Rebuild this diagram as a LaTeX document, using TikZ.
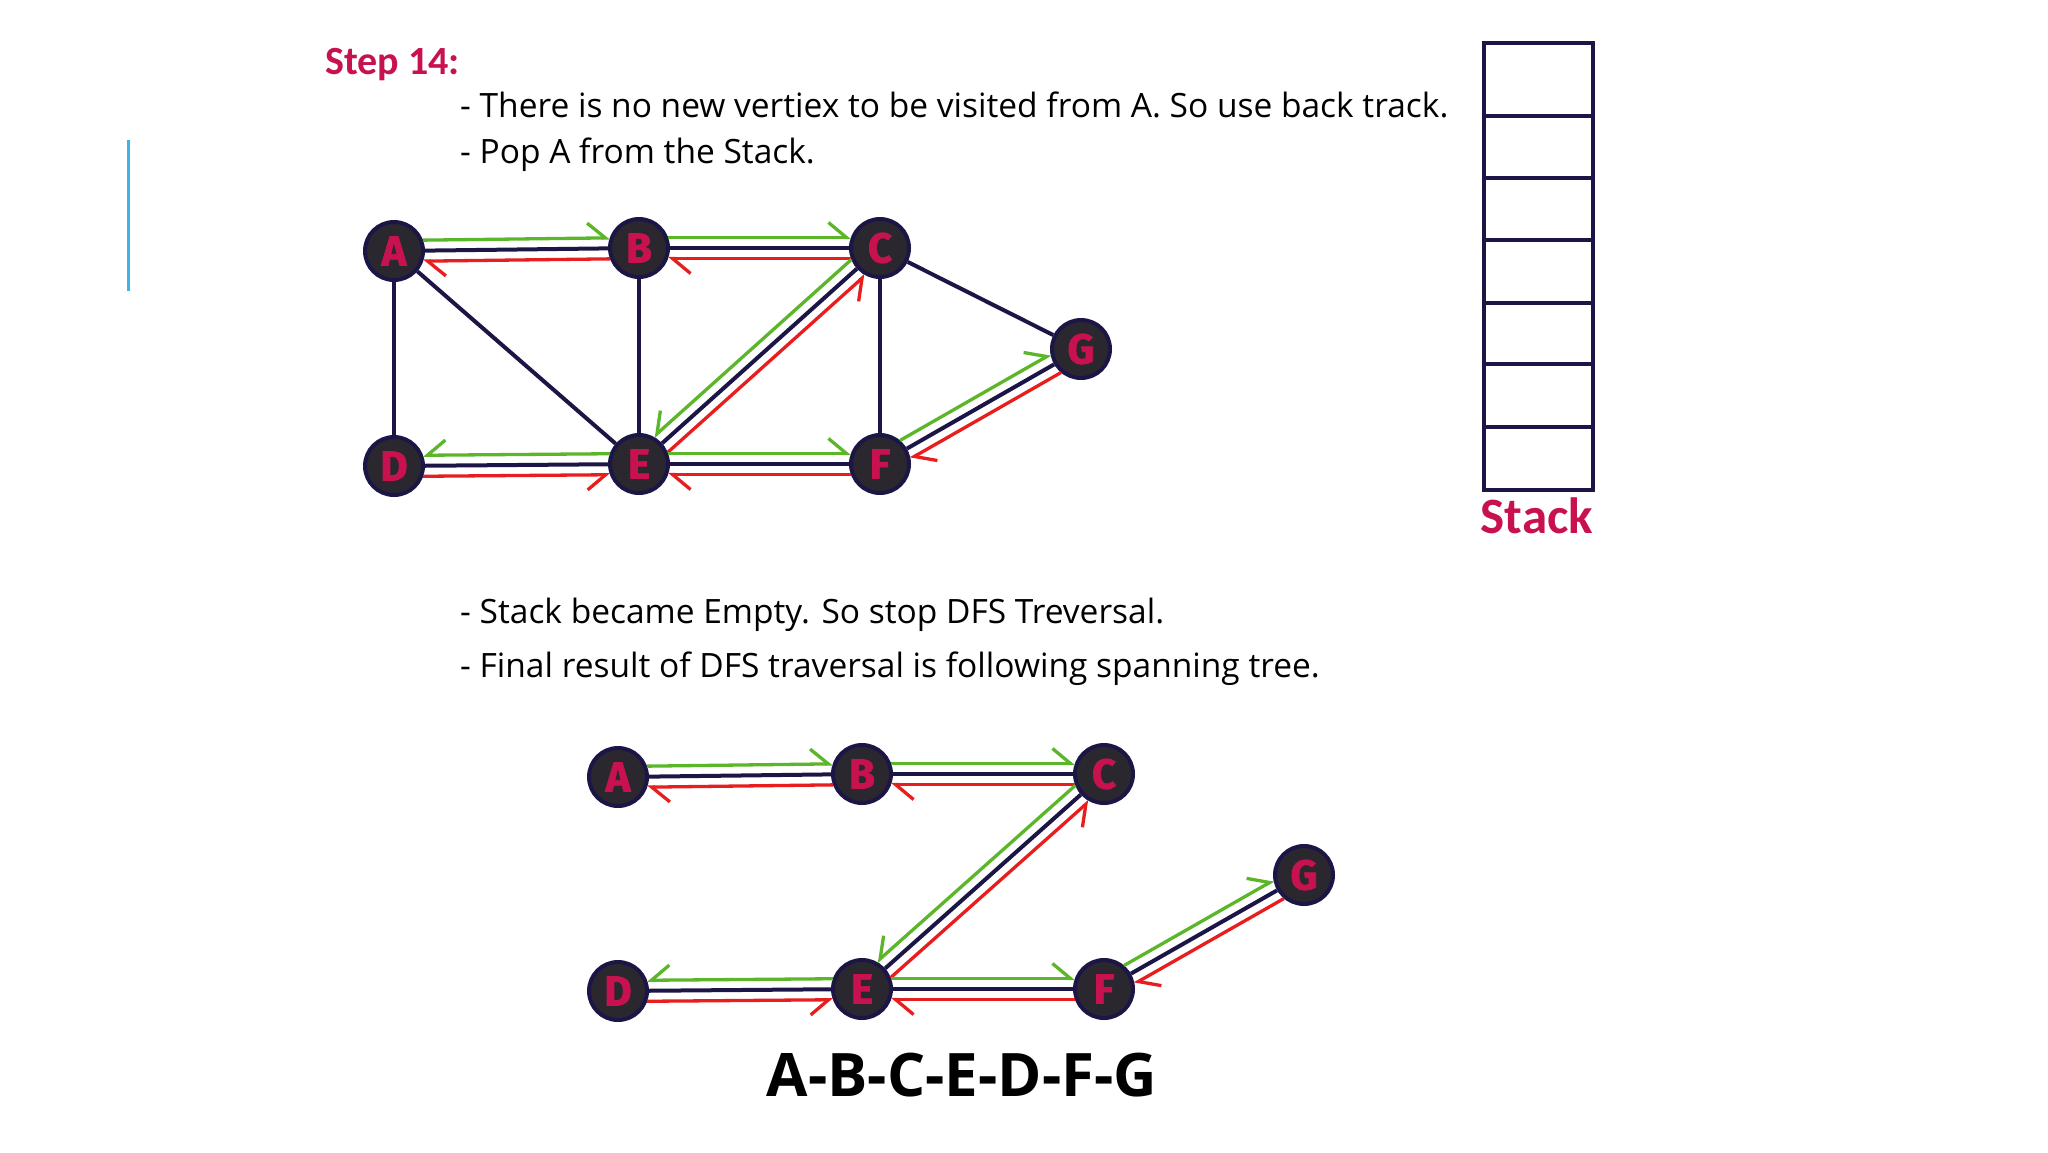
\documentclass[tikz,border=0pt]{standalone}
\usepackage{fontspec}
\setmainfont{Open Sans}
\newfontfamily\stepfont{Carlito}
\newfontfamily\letterfont{Fira Sans}[BoldFeatures={FakeBold=1.6}]
\usetikzlibrary{arrows.meta,calc}
\definecolor{navy}{RGB}{28,22,70}
\definecolor{crim}{RGB}{200,18,80}
\definecolor{grn}{RGB}{92,182,42}
\definecolor{rd}{RGB}{232,30,30}
\definecolor{vfill}{RGB}{42,40,46}
\definecolor{sky}{RGB}{59,180,232}
\newcommand\travL[3]{\draw[#3,barbL] ($(#1.center)!10.5pt!90:(#2.center)$) -- ($(#2.center)!10.5pt!-90:(#1.center)$);}
\newcommand\travR[3]{\draw[#3,barbR] ($(#1.center)!10.5pt!-90:(#2.center)$) -- ($(#2.center)!10.5pt!90:(#1.center)$);}
\begin{document}
\begin{tikzpicture}[x=1pt,y=-1pt,
  vert/.style={circle,draw=navy,line width=4pt,fill=vfill,minimum size=58pt,inner sep=0pt,text=crim,font=\letterfont\bfseries\fontsize{42}{42}\selectfont},
  edge/.style={draw=navy,line width=4pt},
  trav/.style={line width=3.3pt,shorten <=29pt,shorten >=29pt},
  barbL/.style={trav,-{Straight Barb[harpoon,length=18pt,width=30pt]}},
  barbR/.style={trav,-{Straight Barb[harpoon,swap,length=18pt,width=30pt]}},
  body/.style={anchor=base west,inner sep=0pt,font=\fontsize{33.5}{38}\selectfont},
  cell/.style={draw=navy,line width=4pt}
]
\fill[white] (0,0) rectangle (2048,1152);
\useasboundingbox (0,0) rectangle (2048,1152);

% blue bar
\draw[sky,line width=3pt] (128,140) -- (128,291);

% texts
\node[anchor=base west,inner sep=0pt,text=crim,font=\stepfont\bfseries\fontsize{40}{42}\selectfont] (step) at (325,74) {Step 14:};
\node[body] (t1) at (460,117) {- There is no new vertiex to be visited from A. So use back track.};
\node[body] (t2) at (460,163) {- Pop A from the Stack.};
\node[body] (t3) at (460,623) {- Stack became Empty. So stop DFS Treversal.};
\node[body] (t4) at (460,677) {- Final result of DFS traversal is following spanning tree.};
\node[anchor=base,inner sep=0pt,font=\bfseries\fontsize{60}{64}\selectfont] (res) at (962,1096) {A-B-C-E-D-F-G};

% stack
\draw[cell] (1484,43) rectangle (1593,490);
\foreach \yy in {116,178,240,303,364,427} \draw[cell] (1484,\yy) -- (1593,\yy);
\node[anchor=base,inner sep=0pt,text=crim,font=\stepfont\bfseries\fontsize{51}{54}\selectfont] (stk) at (1537,533) {Stack};

% top graph
\node[vert] (A) at (394,251) {A};
\node[vert] (B) at (639,248) {B};
\node[vert] (C) at (880,248) {C};
\node[vert] (D) at (394,466) {D};
\node[vert] (E) at (639,464) {E};
\node[vert] (F) at (880,464) {F};
\node[vert] (G) at (1081,349) {G};
\draw[edge] (A) -- (B);
\draw[edge] (B) -- (C);
\draw[edge] (A) -- (D);
\draw[edge] (A) -- (E);
\draw[edge] (B) -- (E);
\draw[edge] (C) -- (E);
\draw[edge] (C) -- (F);
\draw[edge] (C) -- (G);
\draw[edge] (D) -- (E);
\draw[edge] (E) -- (F);
\draw[edge] (F) -- (G);
\travL{A}{B}{grn} \travL{B}{A}{rd}
\travL{B}{C}{grn} \travL{C}{B}{rd}
\travR{C}{E}{grn} \travR{E}{C}{rd}
\travR{E}{D}{grn} \travR{D}{E}{rd}
\travL{E}{F}{grn} \travL{F}{E}{rd}
\travL{F}{G}{grn} \travL{G}{F}{rd}

% bottom graph
\node[vert] (a) at (618,777) {A};
\node[vert] (b) at (862,774) {B};
\node[vert] (c) at (1104,774) {C};
\node[vert] (d) at (618,991) {D};
\node[vert] (e) at (862,989) {E};
\node[vert] (f) at (1104,989) {F};
\node[vert] (g) at (1304,875) {G};
\draw[edge] (a) -- (b);
\draw[edge] (b) -- (c);
\draw[edge] (c) -- (e);
\draw[edge] (d) -- (e);
\draw[edge] (e) -- (f);
\draw[edge] (f) -- (g);
\travL{a}{b}{grn} \travL{b}{a}{rd}
\travL{b}{c}{grn} \travL{c}{b}{rd}
\travR{c}{e}{grn} \travR{e}{c}{rd}
\travR{e}{d}{grn} \travR{d}{e}{rd}
\travL{e}{f}{grn} \travL{f}{e}{rd}
\travL{f}{g}{grn} \travL{g}{f}{rd}
\end{tikzpicture}
\end{document}
